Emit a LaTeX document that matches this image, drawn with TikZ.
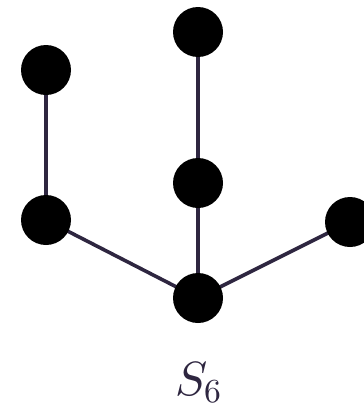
\documentclass[tikz,border=0pt]{standalone}
\usepackage{unicode-math}
\setmathfont{Latin Modern Math}
\definecolor{edgecol}{HTML}{2E2640}
\tikzset{
  vertex/.style={circle, fill=black, minimum size=50pt, inner sep=0pt},
  edge/.style={draw=edgecol, line width=3.6pt}
}
\begin{document}
\begin{tikzpicture}[x=1pt,y=-1pt]
  \useasboundingbox (0,0) rectangle (364,407);
  \coordinate (c1) at (46,70);
  \coordinate (c2) at (198,32);
  \coordinate (c3) at (198,183);
  \coordinate (c4) at (46,220);
  \coordinate (c5) at (350,222);
  \coordinate (c6) at (198,298);
  \begin{scope}
    \clip (0,0) rectangle (364,407);
    \draw[edge] (c1) -- (c4);
    \draw[edge] (c2) -- (c3);
    \draw[edge] (c3) -- (c6);
    \draw[edge] (c4) -- (c6);
    \draw[edge] (c5) -- (c6);
    \node[vertex] (v1) at (c1) {};
    \node[vertex] (v2) at (c2) {};
    \node[vertex] (v3) at (c3) {};
    \node[vertex] (v4) at (c4) {};
    \node[vertex] (v5) at (c5) {};
    \node[vertex] (v6) at (c6) {};
  \end{scope}
  % subscript lifted to the classic TeX drop
  \node[text=edgecol, font=\fontsize{48}{58}\selectfont, anchor=base, inner sep=0pt] (lbl) at (198.5,395.5) {$S_{\raisebox{4.5pt}{$\scriptstyle 6$}}$};
\end{tikzpicture}
\end{document}
